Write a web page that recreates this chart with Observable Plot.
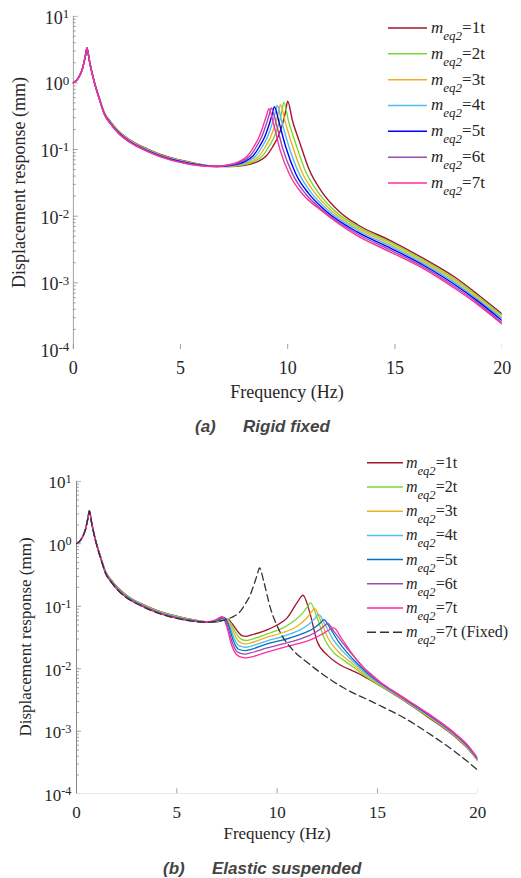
<!DOCTYPE html>
<html><head><meta charset="utf-8">
<script src="https://cdn.jsdelivr.net/npm/d3@7"></script>
<script src="https://cdn.jsdelivr.net/npm/@observablehq/plot@0.6"></script>
<style>
body{margin:0;background:#fff;}
#wrap{position:relative;width:521px;height:878px;overflow:hidden;background:#fff;}
#wrap text,#wrap tspan{font-family:"Liberation Serif","Times New Roman",serif;}
#wrap text.cap{font-family:"Liberation Sans",Arial,sans-serif;}
.panel{position:absolute;left:0;width:521px;}
#overlay{position:absolute;left:0;top:0;pointer-events:none;}
</style></head><body><div id="wrap"></div>
<script>
// ---------------- data ----------------
const seriesNames = ["1t","2t","3t","4t","5t","6t","7t"];
const colorsA = ["#A2142F","#7CD82F","#EDB120","#4DBEEE","#0000FF","#9A4DAE","#FF2DA0"];
const colorsB = ["#A2142F","#7CD82F","#EDB120","#4DBEEE","#0072BD","#9A4DAE","#FF2DA0"];
const xTicks = [0,5,10,15,20];
const yTicks = [1e-4,1e-3,1e-2,1e-1,1,10];

// shared low-frequency part (first mode), Hz
const freqLow = [0,0.26,0.45,0.57,0.64,0.75,0.86,1.0,1.2,1.45,1.75,2.1,2.6,3.2,4.0,5.3,6.5];
const low1t = [1.0,1.21,1.71,2.57,3.35,2.2,1.5,1.0,0.62,0.36,0.26,0.192,0.142,0.111,0.086,0.066,0.0565];
const low2t = [1.0,1.21,1.71,2.57,3.35,2.2,1.5,0.995,0.615,0.356,0.256,0.189,0.14,0.1095,0.0848,0.0652,0.0563];
const low3t = [1.0,1.21,1.71,2.57,3.35,2.2,1.49,0.99,0.61,0.352,0.253,0.186,0.138,0.108,0.0837,0.0643,0.0562];
const low4t = [1.0,1.21,1.71,2.57,3.35,2.2,1.49,0.985,0.605,0.348,0.249,0.1835,0.136,0.1065,0.0825,0.0635,0.056];
const low5t = [1.0,1.21,1.71,2.57,3.35,2.2,1.49,0.98,0.60,0.343,0.245,0.181,0.134,0.105,0.0813,0.0627,0.0559];
const low6t = [1.0,1.21,1.71,2.57,3.35,2.2,1.485,0.975,0.595,0.339,0.242,0.178,0.132,0.1035,0.0802,0.0618,0.0557];
const low7t = [1.0,1.21,1.71,2.57,3.35,2.2,1.48,0.97,0.59,0.335,0.238,0.175,0.13,0.102,0.079,0.061,0.0556];

// (a) rigid fixed, [Hz, mm]
const rigid1t = [[7.3,0.0556],[8.0,0.058],[8.6,0.066],[9.0,0.08],[9.3,0.11],[9.55,0.155],[9.75,0.235],[9.9,0.37],[10.0,0.53],[10.22,0.272],[10.53,0.136],[11.0,0.05],[11.6,0.023],[12.4,0.0118],[13.24,0.0075],[14.79,0.0043],[16.35,0.0023],[17.9,0.00115],[18.83,0.00068],[20,0.00034]];
const rigid2t = [[7.12,0.0556],[7.82,0.058],[8.42,0.066],[8.82,0.08],[9.12,0.11],[9.37,0.155],[9.57,0.235],[9.72,0.36],[9.82,0.51],[10.04,0.267],[10.35,0.129],[10.82,0.048],[11.42,0.0228],[12.22,0.0118],[13.24,0.00704],[14.79,0.00403],[16.35,0.00217],[17.9,0.00108],[18.83,0.00064],[20,0.00032]];
const rigid3t = [[6.96,0.0556],[7.66,0.058],[8.26,0.066],[8.66,0.08],[8.96,0.11],[9.21,0.155],[9.41,0.235],[9.56,0.35],[9.66,0.47],[9.88,0.262],[10.19,0.122],[10.66,0.046],[11.26,0.0225],[12.06,0.0119],[13.24,0.0066],[14.79,0.00378],[16.35,0.00204],[17.9,0.00101],[18.83,0.0006],[20,0.0003]];
const rigid4t = [[6.81,0.0556],[7.51,0.058],[8.11,0.066],[8.51,0.08],[8.81,0.11],[9.06,0.155],[9.26,0.235],[9.41,0.345],[9.51,0.457],[9.73,0.257],[10.04,0.115],[10.51,0.045],[11.11,0.0222],[11.91,0.012],[13.24,0.0062],[14.79,0.00354],[16.35,0.00193],[17.9,0.00095],[18.83,0.00057],[20,0.00029]];
const rigid5t = [[6.68,0.0556],[7.38,0.058],[7.98,0.066],[8.38,0.08],[8.68,0.11],[8.93,0.155],[9.13,0.235],[9.28,0.34],[9.38,0.44],[9.6,0.253],[9.91,0.109],[10.38,0.043],[10.98,0.0218],[11.78,0.012],[13.24,0.0058],[14.79,0.00332],[16.35,0.00182],[17.9,0.00089],[18.83,0.00054],[20,0.00027]];
const rigid6t = [[6.54,0.0556],[7.24,0.058],[7.84,0.066],[8.24,0.08],[8.54,0.11],[8.79,0.155],[8.99,0.235],[9.14,0.335],[9.24,0.42],[9.46,0.248],[9.77,0.103],[10.24,0.042],[10.84,0.0215],[11.64,0.0122],[13.24,0.00545],[14.79,0.0031],[16.35,0.00172],[17.9,0.00083],[18.83,0.00051],[20,0.00025]];
const rigid7t = [[7.12,0.058],[7.72,0.066],[8.12,0.08],[8.42,0.11],[8.67,0.155],[8.87,0.235],[9.02,0.33],[9.12,0.41],[9.34,0.243],[9.65,0.097],[10.12,0.04],[10.72,0.021],[11.52,0.0125],[13.24,0.0051],[14.79,0.0029],[16.35,0.00162],[17.9,0.00078],[18.83,0.00048],[20,0.00024]];

// (b) elastic suspended, [Hz, mm]
const elastic1t = [[6.9,0.0555],[7.55,0.062],[7.77,0.052],[8.02,0.040],[8.27,0.0335],[8.45,0.033],[8.67,0.0344],[9.5,0.042],[10.0,0.05],[10.5,0.065],[11.0,0.115],[11.29,0.15],[11.6,0.085],[11.99,0.0275],[12.5,0.0165],[12.99,0.0124],[14.15,0.0081],[14.5,0.007],[16.0,0.0036],[17.5,0.0017],[19.0,0.00075],[19.5,0.00053],[20,0.00034]];
const elastic2t = [[6.9,0.0558],[7.5,0.063],[7.72,0.051],[7.97,0.036],[8.22,0.0295],[8.47,0.0283],[8.67,0.0293],[9.5,0.036],[10.3,0.045],[10.9,0.06],[11.3,0.08],[11.5,0.097],[11.66,0.113],[11.96,0.07],[12.36,0.03],[12.86,0.0175],[13.36,0.0135],[14.5,0.0072],[16.0,0.00367],[17.5,0.00174],[19.0,0.00077],[19.5,0.00054],[20,0.00034]];
const elastic3t = [[6.9,0.056],[7.45,0.064],[7.67,0.051],[7.92,0.033],[8.17,0.0262],[8.45,0.025],[8.67,0.0259],[9.5,0.032],[10.3,0.038],[11.0,0.048],[11.5,0.066],[11.7,0.08],[11.86,0.092],[12.16,0.06],[12.56,0.03],[13.06,0.0185],[13.56,0.0135],[14.5,0.0076],[16.0,0.00373],[17.5,0.00178],[19.0,0.00078],[19.5,0.00055],[20,0.00035]];
const elastic4t = [[6.9,0.0565],[7.4,0.065],[7.62,0.05],[7.87,0.03],[8.12,0.0232],[8.45,0.0221],[8.67,0.0229],[9.5,0.028],[10.3,0.033],[11.0,0.04],[11.6,0.052],[11.9,0.065],[12.07,0.074],[12.37,0.052],[12.77,0.03],[13.27,0.019],[13.77,0.0132],[14.5,0.008],[16.0,0.0038],[17.5,0.00182],[19.0,0.0008],[19.5,0.00056],[20,0.00035]];
const elastic5t = [[6.9,0.057],[7.35,0.066],[7.57,0.05],[7.82,0.028],[8.07,0.0205],[8.4,0.0195],[8.67,0.0203],[9.5,0.025],[10.3,0.029],[11.0,0.034],[11.8,0.044],[12.15,0.054],[12.33,0.061],[12.63,0.045],[13.03,0.028],[13.53,0.0175],[14.03,0.0118],[14.5,0.0085],[16.0,0.00387],[17.5,0.00186],[19.0,0.00082],[19.5,0.00057],[20,0.00036]];
const elastic6t = [[6.9,0.058],[7.3,0.067],[7.52,0.049],[7.77,0.026],[8.02,0.0185],[8.4,0.0172],[8.67,0.0179],[9.5,0.0215],[10.3,0.025],[11.0,0.029],[11.9,0.038],[12.3,0.047],[12.52,0.053],[12.82,0.04],[13.22,0.027],[13.72,0.0172],[14.22,0.0113],[14.5,0.0089],[16.0,0.00393],[17.5,0.0019],[19.0,0.00083],[19.5,0.00058],[20,0.00036]];
const elastic7t = [[6.9,0.06],[7.26,0.068],[7.48,0.048],[7.73,0.024],[7.98,0.0168],[8.25,0.0152],[8.5,0.0149],[8.67,0.0153],[9.5,0.0185],[10.33,0.022],[11.0,0.025],[11.66,0.029],[12.32,0.037],[12.6,0.042],[12.82,0.045],[13.2,0.031],[13.65,0.019],[14.31,0.0103],[14.5,0.0092],[15.31,0.0056],[16.0,0.004],[17.5,0.00195],[19.0,0.00085],[19.5,0.0006],[20,0.00037]];

const lows = [low1t,low2t,low3t,low4t,low5t,low6t,low7t];
const rigidHigh = [rigid1t,rigid2t,rigid3t,rigid4t,rigid5t,rigid6t,rigid7t];
const elasticHigh = [elastic1t,elastic2t,elastic3t,elastic4t,elastic5t,elastic6t,elastic7t];

const build = (low, high) => [
  ...freqLow.map((f, i) => ({f, v: low[i]})),
  ...high.map(([f, v]) => ({f, v}))
];
const rigidSeries = seriesNames.map((n, i) => build(lows[i], rigidHigh[i]));
const elasticSeries = seriesNames.map((n, i) => build(lows[i], elasticHigh[i]));
const fixedSeries = rigidSeries[6]; // m_eq2 = 7t rigid fixed, shown dashed in (b)

// ---------------- drawing ----------------
const NS = "http://www.w3.org/2000/svg";
const wrap = document.getElementById("wrap");
const FONT = "'Liberation Serif','Times New Roman',serif";

function minorTicks() {
  const out = [];
  for (let e = -4; e < 1; e++) for (let k = 2; k <= 9; k++) out.push(k * Math.pow(10, e));
  return out;
}

function panel({series, colors, dashed, top, H, mt, mr, mb, ml, fs, padY, lw}) {
  const W = 521 - ml - mr;
  const Hin = H - mt - mb;
  const marks = [
    Plot.tickY(minorTicks(), {y: d => d, stroke: "#888", strokeWidth: 0.8, insetRight: W - 3}),
    Plot.tickY(yTicks, {y: d => d, stroke: "#888", strokeWidth: 0.8, insetRight: W - 5}),
    Plot.tickX(xTicks, {x: d => d, stroke: "#888", strokeWidth: 0.8, insetTop: Hin - 5}),
    Plot.ruleX([0], {stroke: "#888", strokeWidth: 1}),
    Plot.ruleY([1e-4], {stroke: "#888", strokeWidth: 1}),
    Plot.axisY({ticks: yTicks, tickSize: 0, tickPadding: padY, label: null, fontSize: fs,
      tickFormat: d => "10^" + Math.round(Math.log10(d))}),
    Plot.axisX({ticks: xTicks, tickSize: 0, tickPadding: 12, label: null, fontSize: fs,
      tickFormat: d => String(d)})
  ];
  series.forEach((s, i) => {
    marks.push(Plot.line(s, {x: "f", y: "v", stroke: colors[i], strokeWidth: lw, curve: "monotone-x"}));
  });
  if (dashed) {
    marks.push(Plot.line(dashed, {x: "f", y: "v", stroke: "#333", strokeWidth: 1.3, strokeDasharray: "7,4", curve: "monotone-x"}));
  }
  const p = Plot.plot({
    width: 521, height: H,
    marginTop: mt, marginRight: mr, marginBottom: mb, marginLeft: ml,
    x: {domain: [0, 20]},
    y: {type: "log", domain: [1e-4, 10]},
    clip: true,
    style: {fontFamily: FONT, color: "#262626", background: "transparent", overflow: "visible"},
    marks
  });
  // superscript exponents on y tick labels
  p.querySelectorAll('[aria-label="y-axis tick label"] text').forEach(t => {
    const [b, e] = t.textContent.split("^");
    t.textContent = "";
    t.setAttribute("y", "0.42em");
    const t1 = document.createElementNS(NS, "tspan"); t1.textContent = b;
    const t2 = document.createElementNS(NS, "tspan"); t2.textContent = e;
    t2.setAttribute("dy", "-0.45em"); t2.setAttribute("font-size", "0.72em");
    t.append(t1, t2);
  });
  const div = document.createElement("div");
  div.className = "panel";
  div.style.top = top + "px";
  div.appendChild(p);
  wrap.appendChild(div);
}

panel({series: rigidSeries, colors: colorsA, dashed: null, top: 0, H: 400,
  mt: 15.7, mr: 19.3, mb: 51, ml: 72.7, fs: 18, padY: 4, lw: 1.4});
panel({series: elasticSeries, colors: colorsB, dashed: fixedSeries, top: 440, H: 400,
  mt: 40.7, mr: 43.7, mb: 46.7, ml: 76, fs: 17, padY: 5, lw: 1.3});

// ---------------- overlay: titles, legends, captions ----------------
const ov = document.createElementNS(NS, "svg");
ov.setAttribute("id", "overlay");
ov.setAttribute("width", 521); ov.setAttribute("height", 878);
wrap.appendChild(ov);

function txt(x, y, str, attrs = {}) {
  const t = document.createElementNS(NS, "text");
  t.setAttribute("x", x); t.setAttribute("y", y);
  t.textContent = str;
  for (const k in attrs) t.setAttribute(k, attrs[k]);
  ov.appendChild(t);
  return t;
}
function legendLabel(x, y, suffix, fs, sfs) {
  const t = document.createElementNS(NS, "text");
  t.setAttribute("x", x); t.setAttribute("y", y);
  t.setAttribute("fill", "#262626");
  t.setAttribute("font-size", fs);
  const a = document.createElementNS(NS, "tspan"); a.textContent = "m"; a.setAttribute("font-style", "italic");
  const b = document.createElementNS(NS, "tspan"); b.textContent = "eq2"; b.setAttribute("font-style", "italic");
  b.setAttribute("font-size", sfs); b.setAttribute("dy", 7);
  const c = document.createElementNS(NS, "tspan"); c.textContent = "=" + suffix; c.setAttribute("dy", -7);
  t.append(a, b, c);
  ov.appendChild(t);
}
function line(x1, x2, y, color, dash) {
  const l = document.createElementNS(NS, "line");
  l.setAttribute("x1", x1); l.setAttribute("x2", x2);
  l.setAttribute("y1", y); l.setAttribute("y2", y);
  l.setAttribute("stroke", color); l.setAttribute("stroke-width", 1.5);
  if (dash) l.setAttribute("stroke-dasharray", dash);
  ov.appendChild(l);
}

// legend (a)
seriesNames.forEach((n, i) => {
  const y = 28 + i * 25.83;
  line(388, 427, y, colorsA[i]);
  legendLabel(431, y + 5, n, 17, 13);
});
// legend (b)
seriesNames.forEach((n, i) => {
  const y = 462.7 + i * 24.23;
  line(367, 403, y, colorsB[i]);
  legendLabel(406, y + 5, n, 16, 12.5);
});
{
  const y = 462.7 + 7 * 24.23;
  line(367, 403, y, "#333", "9,4");
  legendLabel(406, y + 5, "7t (Fixed)", 16, 12.5);
}

// axis titles
txt(287, 397.5, "Frequency (Hz)", {"font-size": 18, "text-anchor": "middle", fill: "#262626"});
txt(277, 838.5, "Frequency (Hz)", {"font-size": 17, "text-anchor": "middle", fill: "#262626"});
txt(0, 0, "Displacement response (mm)", {"font-size": 18, "text-anchor": "middle", fill: "#262626",
  transform: "translate(25,182.5) rotate(-90)"});
txt(0, 0, "Displacement response (mm)", {"font-size": 17, "text-anchor": "middle", fill: "#262626",
  transform: "translate(31,637) rotate(-90)"});

// captions
const CAP = {class: "cap", "font-size": 17, "font-weight": "bold", "font-style": "italic", fill: "#444"};
txt(195, 432, "(a)", CAP);
txt(243, 432, "Rigid fixed", CAP);
txt(163, 873.5, "(b)", CAP);
txt(212, 873.5, "Elastic suspended", CAP);
</script></body></html>
